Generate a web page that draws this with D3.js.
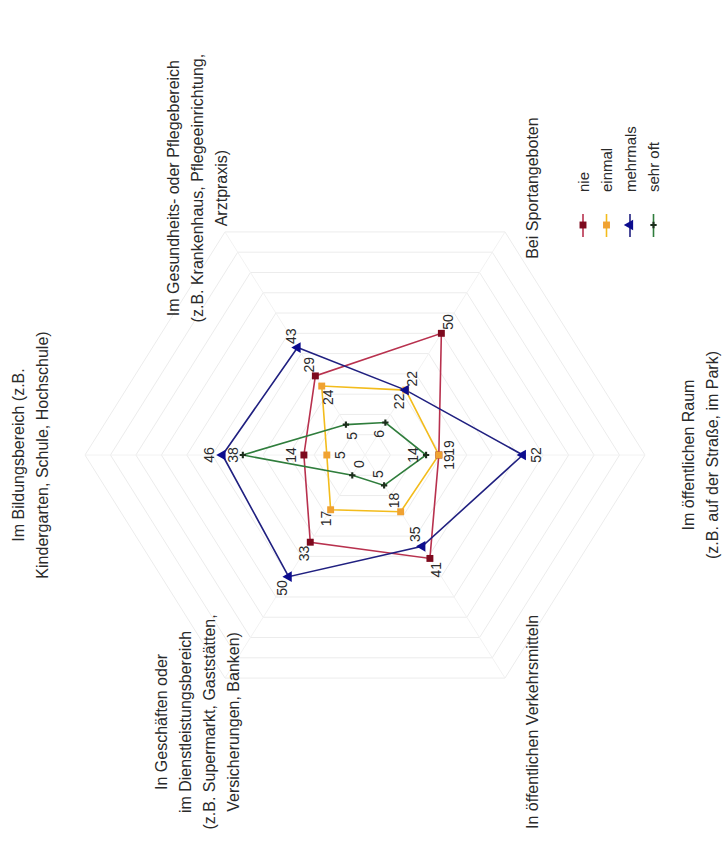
<!DOCTYPE html>
<html>
<head>
<meta charset="utf-8">
<script src="https://cdn.jsdelivr.net/npm/d3@7"></script>
<style>
  body { margin: 0; background: #fff; }
  text { font-family: "Liberation Sans", Arial, sans-serif; fill: #2a2a2a; }
</style>
</head>
<body>
<div id="chart"></div>
<script>
// categories, clockwise from the top of the (unrotated) radar
const categories = [
    ["Im Bildungsbereich (z.B.", "Kindergarten, Schule, Hochschule)"],
    ["Im Gesundheits- oder Pflegebereich", "(z.B. Krankenhaus, Pflegeeinrichtung,", "Arztpraxis)"],
    ["Bei Sportangeboten"],
    ["Im öffentlichen Raum", "(z.B. auf der Straße, im Park)"],
    ["In öffentlichen Verkehrsmitteln"],
    ["In Geschäften oder", "im Dienstleistungsbereich", "(z.B. Supermarkt, Gaststätten,", "Versicherungen, Banken)"]
];
const seriesNames = ["nie", "einmal", "mehrmals", "sehr oft"];
const nie      = [14, 29, 50, 19, 41, 33];
const einmal   = [5, 24, 22, 19, 18, 17];
const mehrmals = [46, 43, 22, 52, 35, 50];
const sehrOft  = [38, 5, 6, 14, 5, 0];
const gridTicks = [0, 10, 20, 30, 40, 50, 60, 70, 80, 90, 100];

const width = 723, height = 867;
const cx = 365, cy = 455, ky = 0.92; // chart is printed turned a quarter, a bit squashed

const svg = d3.select("#chart").append("svg")
    .attr("width", width).attr("height", height);

let r = d3.scaleLinear().domain([-10, 100]).range([0, 280]);
let angle = d3.scaleLinear().domain([0, 6]).range([Math.PI, 3 * Math.PI]);

function pos(i, v) {
    let a = angle(i), rr = r(v);
    return [cx + rr * Math.cos(a), cy + rr * Math.sin(a) * ky];
}

// faint hexagon grid
svg.append("g").selectAll("path")
    .data(gridTicks)
    .join("path")
    .attr("d", t => d3.line()(d3.range(7).map(i => pos(i % 6, t))))
    .attr("fill", "none")
    .attr("stroke", "#ececec")
    .attr("stroke-width", 1);

svg.append("g").selectAll("line")
    .data(d3.range(6))
    .join("line")
    .attr("x1", cx).attr("y1", cy)
    .attr("x2", i => pos(i, 100)[0])
    .attr("y2", i => pos(i, 100)[1])
    .attr("stroke", "#f2f2f2");

const series = [
    { name: seriesNames[0], values: nie, line: "#b8314e", mark: "#7d0a1e", shape: d3.symbolSquare, size: 48, side: 1 },
    { name: seriesNames[1], values: einmal, line: "#f3bc1c", mark: "#f0a232", shape: d3.symbolSquare, size: 48, side: -1 },
    { name: seriesNames[2], values: mehrmals, line: "#202080", mark: "#0c0c8e", shape: d3.symbolTriangle, size: 50, side: 1 },
    { name: seriesNames[3], values: sehrOft, line: "#2f7d3c", mark: "#1c2e1c", shape: d3.symbolCross, size: 22, side: -1 }
];

// data polygons
series.forEach(s => {
    let pts = s.values.map((v, i) => pos(i, v));
    svg.append("path")
        .attr("d", d3.line()(pts.concat([pts[0]])))
        .attr("fill", "none")
        .attr("stroke", s.line)
        .attr("stroke-width", 1.6);
});

series.forEach(s => {
    svg.append("g").selectAll("path")
        .data(s.values)
        .join("path")
        .attr("d", d3.symbol().type(s.shape).size(s.size))
        .attr("transform", (v, i) => `translate(${pos(i, v)}) rotate(-90)`)
        .attr("fill", s.mark);
});

// value labels, outside or inside the marker
series.forEach((s, si) => {
    svg.append("g").selectAll("text")
        .data(s.values)
        .join("text")
        .attr("transform", (v, i) => {
            let [x, y] = pos(i, v);
            let a = angle(i);
            let off = s.side * 13;
            if (si == 1 && i == 3) { off = 10; y -= 7; }
            if (si == 0 && i == 3) { off = 10; y += 7; }
            if (si == 3 && i == 0) off = 10;
            if (si == 2 && i == 4) off = -14;
            if (si == 1 && i == 5) off = 10;
            return `translate(${x + off * Math.cos(a)},${y + off * Math.sin(a)}) rotate(-90)`;
        })
        .attr("text-anchor", "middle")
        .attr("dominant-baseline", "central")
        .style("font-size", "14px")
        .text(v => v);
});

// category labels
const lh = 24;
categories.forEach((lines, i) => {
    let a = angle(i);
    let x = cx + 335 * Math.cos(a), y = cy + 335 * Math.sin(a) * ky;
    svg.append("text")
        .attr("transform", `translate(${x},${y}) rotate(-90)`)
        .attr("text-anchor", "middle")
        .style("font-size", "16px")
        .selectAll("tspan")
        .data(lines)
        .join("tspan")
        .attr("x", 0)
        .attr("y", (d, j) => (j - (lines.length - 1) / 2) * lh)
        .attr("dominant-baseline", "central")
        .text(d => d);
});

// legend
let legend = svg.append("g").selectAll("g")
    .data(series)
    .join("g")
    .attr("transform", (d, i) => `translate(${583 + i * 23.5},225)`);

legend.append("line")
    .attr("y1", -11).attr("y2", 12)
    .attr("stroke", d => d.line)
    .attr("stroke-width", 1.6);

legend.append("path")
    .attr("d", d => d3.symbol().type(d.shape).size(d.size)())
    .attr("transform", "rotate(-90)")
    .attr("fill", d => d.mark);

legend.append("text")
    .attr("transform", "translate(0,-33) rotate(-90)")
    .attr("dominant-baseline", "central")
    .style("font-size", "15px")
    .text(d => d.name);
</script>
</body>
</html>
